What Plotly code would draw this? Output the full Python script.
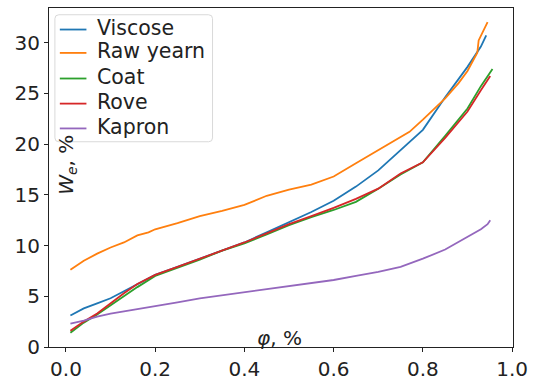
import plotly.graph_objects as go

names = ["Viscose", "Raw yearn", "Coat", "Rove", "Kapron"]
colors = ["#1f77b4", "#ff7f0e", "#2ca02c", "#d62728", "#9467bd"]

phi_viscose = [0.01, 0.04, 0.07, 0.10, 0.13, 0.16, 0.20, 0.25, 0.30, 0.35, 0.40, 0.45, 0.50,
               0.55, 0.60, 0.65, 0.70, 0.75, 0.80, 0.85, 0.90, 0.93, 0.942]
w_viscose = [3.1, 3.8, 4.3, 4.8, 5.5, 6.2, 7.1, 7.9, 8.7, 9.5, 10.3, 11.3, 12.3,
             13.3, 14.4, 15.8, 17.4, 19.4, 21.4, 24.6, 27.6, 29.6, 30.7]

phi_raw = [0.01, 0.04, 0.07, 0.10, 0.13, 0.16, 0.185, 0.20, 0.25, 0.30, 0.35, 0.40, 0.45, 0.50,
           0.55, 0.60, 0.65, 0.70, 0.75, 0.77, 0.80, 0.85, 0.88, 0.90, 0.922, 0.925, 0.945]
w_raw = [7.6, 8.5, 9.2, 9.8, 10.3, 11.0, 11.3, 11.6, 12.2, 12.9, 13.4, 14.0, 14.9, 15.5,
         16.0, 16.8, 18.1, 19.4, 20.7, 21.2, 22.4, 24.5, 26.0, 27.2, 29.0, 30.2, 32.0]

phi_coat = [0.01, 0.04, 0.07, 0.10, 0.13, 0.16, 0.20, 0.25, 0.30, 0.35, 0.40, 0.45, 0.50,
            0.55, 0.60, 0.65, 0.70, 0.75, 0.80, 0.85, 0.90, 0.93, 0.956]
w_coat = [1.4, 2.4, 3.2, 4.1, 5.0, 5.9, 7.0, 7.8, 8.6, 9.5, 10.2, 11.1, 12.0,
          12.8, 13.5, 14.3, 15.6, 17.0, 18.2, 20.8, 23.5, 25.7, 27.4]

phi_rove = [0.01, 0.04, 0.07, 0.10, 0.13, 0.16, 0.20, 0.25, 0.30, 0.35, 0.40, 0.45, 0.50,
            0.55, 0.60, 0.65, 0.70, 0.75, 0.80, 0.85, 0.90, 0.93, 0.951]
w_rove = [1.6, 2.5, 3.3, 4.3, 5.3, 6.2, 7.1, 7.9, 8.7, 9.5, 10.3, 11.2, 12.1,
          12.9, 13.7, 14.6, 15.6, 17.1, 18.2, 20.6, 23.2, 25.3, 26.7]

phi_kapron = [0.01, 0.04, 0.07, 0.10, 0.15, 0.20, 0.25, 0.30, 0.35, 0.40, 0.45, 0.50,
              0.55, 0.60, 0.65, 0.70, 0.75, 0.80, 0.85, 0.90, 0.93, 0.945, 0.951]
w_kapron = [2.3, 2.6, 3.0, 3.3, 3.65, 4.0, 4.4, 4.8, 5.1, 5.4, 5.7, 6.0,
            6.3, 6.6, 7.0, 7.4, 7.9, 8.7, 9.6, 10.8, 11.6, 12.1, 12.5]

x_ticks = [0.0, 0.2, 0.4, 0.6, 0.8, 1.0]
y_ticks = [0, 5, 10, 15, 20, 25, 30]

xs = [phi_viscose, phi_raw, phi_coat, phi_rove, phi_kapron]
ys = [w_viscose, w_raw, w_coat, w_rove, w_kapron]

FONT = "DejaVu Sans"
TXT = "#222"

# plot area in pixels (for placing the hand-made legend)
L, R, T, B = 49, 520, 7, 358
def px_x(p):
    return (p - L) / (R - L)
def px_y(p):
    return (B - p) / (B - T)

fig = go.Figure()
for n, c, x, y in zip(names, colors, xs, ys):
    fig.add_trace(go.Scatter(x=x, y=y, mode="lines", name=n, showlegend=False,
                             line=dict(color=c, width=1.8)))

axis_common = dict(showline=True, linecolor=TXT, linewidth=1, mirror=True,
                   ticks="outside", ticklen=4, tickcolor=TXT, showgrid=False,
                   zeroline=False, tickfont=dict(family=FONT, size=20, color=TXT))

# rounded legend frame
bx0, bx1, by0, by1, r = 55, 215, 14, 145.5, 4
rx, ry = r / (R - L), r / (B - T)
X0, X1, Y0, Y1 = px_x(bx0), px_x(bx1), px_y(by1), px_y(by0)
frame = (f"M {X0+rx},{Y1} L {X1-rx},{Y1} Q {X1},{Y1} {X1},{Y1-ry} "
         f"L {X1},{Y0+ry} Q {X1},{Y0} {X1-rx},{Y0} L {X0+rx},{Y0} "
         f"Q {X0},{Y0} {X0},{Y0+ry} L {X0},{Y1-ry} Q {X0},{Y1} {X0+rx},{Y1} Z")
shapes = [dict(type="path", xref="paper", yref="paper", path=frame,
               line=dict(color="#d9d9d9", width=1), fillcolor="rgba(255,255,255,0.8)",
               layer="above")]
annotations = []
row_y = [29.3, 53.5, 80, 106, 131.7]
for n, c, yy in zip(names, colors, row_y):
    shapes.append(dict(type="line", xref="paper", yref="paper",
                       x0=px_x(60), x1=px_x(87), y0=px_y(yy), y1=px_y(yy),
                       line=dict(color=c, width=1.8), layer="above"))
    annotations.append(dict(text=n, xref="paper", yref="paper", x=px_x(96), y=px_y(yy - 2),
                            xanchor="left", yanchor="middle", showarrow=False,
                            font=dict(family=FONT, size=20.5, color=TXT)))

annotations += [
    dict(text="<i>φ</i>, %", xref="paper", yref="paper", x=0.497, y=0.028,
         xanchor="center", yanchor="middle", showarrow=False,
         font=dict(family=FONT, size=20, color=TXT)),
    dict(text="<i>W<sub>e</sub></i>, %", xref="paper", yref="paper", x=0.04, y=0.536,
         xanchor="center", yanchor="middle", showarrow=False, textangle=-90,
         font=dict(family=FONT, size=20, color=TXT)),
]

fig.update_layout(
    width=535, height=388,
    margin=dict(l=L, r=535 - R, t=T, b=388 - B),
    paper_bgcolor="white", plot_bgcolor="white",
    xaxis=dict(range=[-0.038, 1.002], tickvals=x_ticks,
               ticktext=[f"{v:.1f}" for v in x_ticks], **axis_common),
    yaxis=dict(range=[0, 33.4], tickvals=y_ticks, **axis_common),
    showlegend=False,
    shapes=shapes,
    annotations=annotations,
)

fig.write_html("out.html")
